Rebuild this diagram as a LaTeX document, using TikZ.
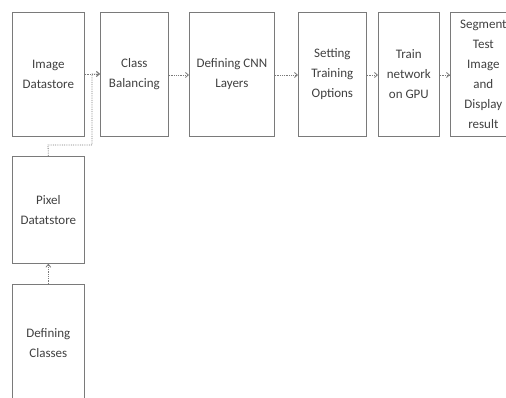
\documentclass[tikz,border=0pt]{standalone}
\usepackage{fontspec}
\setmainfont{Carlito}
\usetikzlibrary{arrows.meta}
\definecolor{txt}{HTML}{404040}
\definecolor{edge}{HTML}{7A7A7A}
\tikzset{
  box/.style={draw=edge, line width=0.7pt, rectangle, anchor=north west, inner sep=0pt,
    text=txt, align=center, font=\fontsize{13}{20}\selectfont},
  conn/.style={draw=edge, densely dotted, line width=0.8pt, -{Straight Barb[length=3pt,width=5pt]}}
}
\begin{document}
\begin{tikzpicture}[x=1pt,y=1pt]
\useasboundingbox (0,0) rectangle (506,-398);
\clip (0,0) rectangle (506,-398);
\node[box, minimum width=72pt, minimum height=124pt] (img) at (12,-12) {Image\\Datastore};
\node[box, minimum width=68pt, minimum height=124pt] (cls) at (100,-12) {Class\\Balancing};
\node[box, minimum width=85pt, minimum height=124pt] (cnn) at (189,-12) {Defining CNN\\Layers};
\node[box, minimum width=68pt, minimum height=124pt] (opt) at (298,-12) {Setting\\Training\\Options};
\node[box, minimum width=61pt, minimum height=124pt] (gpu) at (378,-12) {Train\\network\\on GPU};
\node[box, minimum width=66pt, minimum height=124pt] (seg) at (450,-12) {Segment\\Test\\Image\\and\\Display\\result};
\node[box, minimum width=72pt, minimum height=107pt] (pix) at (12,-156) {Pixel\\Datatstore};
\node[box, minimum width=72pt, minimum height=118pt] (def) at (12,-284) {Defining\\Classes};
\coordinate (j1) at (48,-145);
\coordinate (j2) at (92,-145);
\draw[conn] (img.east |- 0,-74) -- (cls.west |- 0,-74);
\draw[conn] (pix.north) -- (j1) -- (j2) -- (92,-74) -- (cls.west |- 0,-74);
\draw[conn] (cls.east |- 0,-75) -- (cnn.west |- 0,-75);
\draw[conn] (cnn.east |- 0,-75) -- (opt.west |- 0,-75);
\draw[conn] (opt.east |- 0,-75) -- (gpu.west |- 0,-75);
\draw[conn] (gpu.east |- 0,-75) -- (seg.west |- 0,-75);
\draw[conn] (def.north) -- (pix.south);
\end{tikzpicture}
\end{document}
